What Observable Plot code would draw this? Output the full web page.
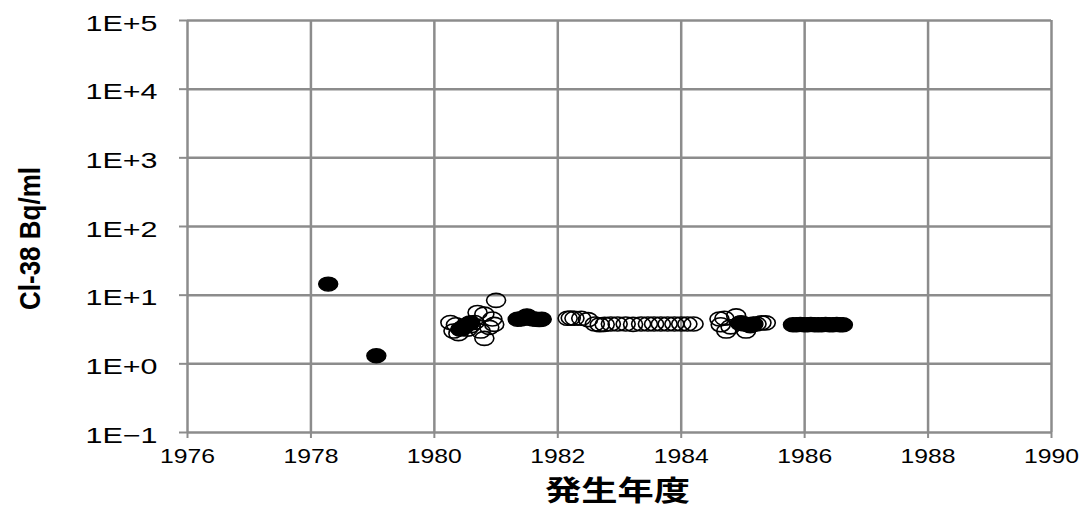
<!DOCTYPE html>
<html>
<head>
<meta charset="utf-8">
<script src="https://cdn.jsdelivr.net/npm/d3@7"></script>
<script src="https://cdn.jsdelivr.net/npm/@observablehq/plot@0.6"></script>
<style>
  html, body { margin: 0; padding: 0; background: #fff; }
  #chart { width: 1086px; height: 509px; overflow: hidden; }
</style>
</head>
<body>
<div id="chart"></div>
<script>
// ---- data ----
const xTicks = [1976, 1978, 1980, 1982, 1984, 1986, 1988, 1990];
const yTicks = [0.1, 1, 10, 100, 1000, 10000, 100000];
const yLabel = "Cl-38 Bq/ml";
const xLabel = "発生年度";

// filled markers
const filledYear = [1978.28, 1979.06,
  1980.42, 1980.5, 1980.58,
  1981.35, 1981.4, 1981.45, 1981.5, 1981.55, 1981.6, 1981.65, 1981.7, 1981.74,
  1984.95, 1985.02, 1985.1, 1985.17,
  1985.81, 1985.87, 1985.93, 1985.99, 1986.05, 1986.1, 1986.16, 1986.22,
  1986.28, 1986.34, 1986.4, 1986.46, 1986.52, 1986.57, 1986.62];
const filledValue = [14.5, 1.31,
  3.2, 3.6, 3.95,
  4.45, 4.5, 4.6, 5.0, 4.6, 4.5, 4.45, 4.4, 4.45,
  3.9, 3.8, 3.7, 3.8,
  3.7, 3.7, 3.75, 3.7, 3.7, 3.75, 3.7, 3.7,
  3.7, 3.75, 3.7, 3.7, 3.75, 3.7, 3.7];

// open markers
const openYear = [1980.26, 1980.31, 1980.35, 1980.39, 1980.45, 1980.54, 1980.59, 1980.65,
  1980.7, 1980.75, 1980.81, 1980.81, 1980.89, 1980.94, 1980.97, 1981.0,
  1982.16, 1982.21, 1982.27, 1982.38, 1982.49,
  1982.6, 1982.68, 1982.76, 1982.86, 1982.97, 1983.1, 1983.22,
  1983.35, 1983.46, 1983.56, 1983.67, 1983.78, 1983.89, 1984.0, 1984.1, 1984.2,
  1984.62, 1984.64, 1984.7, 1984.73, 1984.8, 1984.89, 1984.97, 1985.05, 1985.12,
  1985.22, 1985.3, 1985.37];
const openValue = [4.0, 3.0, 3.7, 2.75, 3.3, 3.2, 3.6, 4.0,
  5.6, 3.0, 2.35, 5.3, 3.4, 4.5, 3.75, 8.4,
  4.6, 4.65, 4.6, 4.6, 4.4,
  3.8, 3.7, 3.75, 3.8, 3.8, 3.8, 3.75,
  3.8, 3.8, 3.8, 3.8, 3.8, 3.8, 3.8, 3.8, 3.8,
  4.5, 3.7, 4.6, 3.0, 3.45, 5.0, 3.95, 3.0, 3.6,
  3.8, 3.95, 3.95];

const filled = filledYear.map((x, i) => ({x, y: filledValue[i]}));
const open = openYear.map((x, i) => ({x, y: openValue[i]}));

// ellipse-shaped marker (the original markers are wider than tall)
const ellipse = {
  draw(ctx, size) {
    const r = Math.sqrt(size / Math.PI);
    const rx = r * 1.36, ry = r, k = 0.5523;
    ctx.moveTo(rx, 0);
    ctx.bezierCurveTo(rx, k * ry, k * rx, ry, 0, ry);
    ctx.bezierCurveTo(-k * rx, ry, -rx, k * ry, -rx, 0);
    ctx.bezierCurveTo(-rx, -k * ry, -k * rx, -ry, 0, -ry);
    ctx.bezierCurveTo(k * rx, -ry, rx, -k * ry, rx, 0);
    ctx.closePath();
  }
};

const fmtY = d => {
  const e = Math.round(Math.log10(d));
  return "1E" + (e >= 0 ? "+" + e : "\u2212" + (-e));
};

const gridColor = "#8c8c8c";

const svg = Plot.plot({
  width: 1086,
  height: 509,
  marginLeft: 187,
  marginRight: 35,
  marginTop: 20,
  marginBottom: 77,
  style: {fontFamily: "'Liberation Sans', Arial, sans-serif", fontSize: "21px", background: "#fff", color: "#000"},
  x: {domain: [1976, 1990], ticks: xTicks, tickFormat: d3.format("d"), tickSize: 6, tickPadding: 10, label: null},
  y: {type: "log", domain: [0.1, 100000], ticks: yTicks, tickFormat: fmtY, tickSize: 8, tickPadding: 22, label: null},
  marks: [
    Plot.ruleX(xTicks, {x: d => d, stroke: gridColor, strokeWidth: 2.5}),
    Plot.ruleY(yTicks, {y: d => d, stroke: gridColor, strokeWidth: 2.5}),
    Plot.dot(open, {x: "x", y: "y", r: 7, symbol: ellipse, fill: "none", stroke: "#000", strokeWidth: 1.6}),
    Plot.dot(filled, {x: "x", y: "y", r: 7, symbol: ellipse, fill: "#000", stroke: "#000", strokeWidth: 1.4}),
    Plot.text([yLabel], {frameAnchor: "left", textAnchor: "middle", lineAnchor: "middle", dx: -157, dy: 12, rotate: -90,
      fontSize: 30, fontWeight: "bold", fill: "#000"}),
    Plot.text([xLabel], {frameAnchor: "bottom", textAnchor: "middle", lineAnchor: "middle", dx: -2, dy: 60,
      fontSize: 28, fontWeight: "bold", fill: "#000",
      fontFamily: "'Noto Sans CJK JP', 'Noto Sans CJK SC', sans-serif"})
  ]
});

// styling tweaks: gray tick marks, widened tick labels like the original
const s = d3.select(svg);
s.selectAll("g[aria-label='x-axis tick'], g[aria-label='y-axis tick']").attr("stroke", gridColor).attr("stroke-width", 2);
s.selectAll("g[aria-label='x-axis'] .tick line, g[aria-label='y-axis'] .tick line").attr("stroke", gridColor).attr("stroke-width", 2);
s.selectAll("g[aria-label='y-axis'] path.domain, g[aria-label='x-axis'] path.domain").attr("display", "none");
s.selectAll("g[aria-label='y-axis tick label'] text, g[aria-label='y-axis'] .tick text")
  .style("font-size", "22px")
  .attr("textLength", 72).attr("lengthAdjust", "spacingAndGlyphs").attr("dy", "0.14em");
s.selectAll("g[aria-label='x-axis tick label'] text, g[aria-label='x-axis'] .tick text")
  .style("font-size", "21px")
  .attr("textLength", 55).attr("lengthAdjust", "spacingAndGlyphs");
s.selectAll("text").filter(function() { return this.textContent === yLabel; })
  .style("font-size", "30px")
  .attr("textLength", 143).attr("lengthAdjust", "spacingAndGlyphs");
s.selectAll("text").filter(function() { return this.textContent === xLabel; })
  .style("font-size", "28px")
  .attr("textLength", 145).attr("lengthAdjust", "spacingAndGlyphs");

document.getElementById("chart").appendChild(svg);
</script>
</body>
</html>
